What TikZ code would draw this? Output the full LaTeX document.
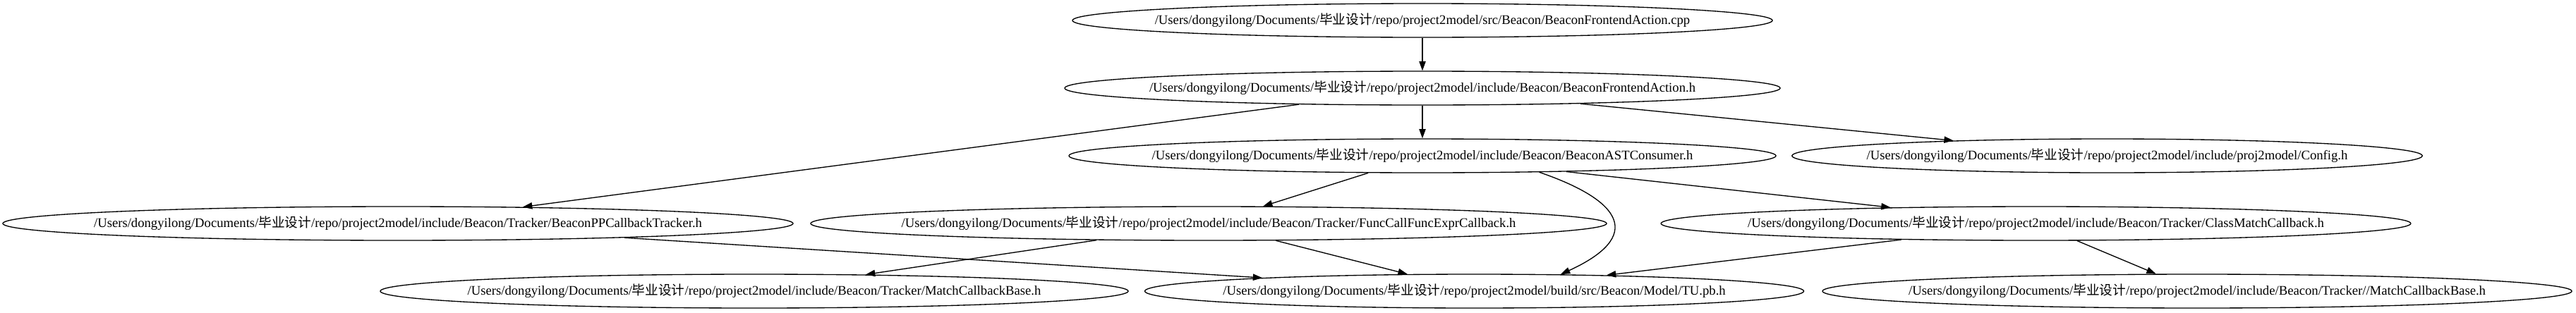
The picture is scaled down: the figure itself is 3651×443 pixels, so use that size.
\documentclass[tikz,border=0pt]{standalone}
\usepackage{fontspec}
\setmainfont{Liberation Serif}
\newfontfamily\cjk{Noto Sans CJK SC}
\usetikzlibrary{arrows.meta,shapes.geometric}
\newcommand\pre{/Users/dongyilong/Documents/{\cjk 毕业设计}/repo/project2model/}
\begin{document}
\begin{tikzpicture}[x=0.75pt,y=-0.75pt,
  font=\fontsize{14}{16}\selectfont,
  nd/.style={ellipse, draw, line width=1pt, minimum height=36pt, inner sep=0pt},
  ed/.style={-{Triangle[length=10pt,width=7pt]}, line width=1pt}]
\useasboundingbox (0,0) rectangle (3651,443);
% rank 1
\node[nd, minimum width=744pt, label={center:{\pre src/Beacon/BeaconFrontendAction.cpp}}] (A) at (2016,29) {};
% rank 2
\node[nd, minimum width=760.5pt, label={center:{\pre include/Beacon/BeaconFrontendAction.h}}] (B) at (2016,125) {};
% rank 3
\node[nd, minimum width=751.5pt, label={center:{\pre include/Beacon/BeaconASTConsumer.h}}] (C) at (2016,221) {};
\node[nd, minimum width=670pt, label={center:{\pre include/proj2model/Config.h}}] (D) at (2986.5,221) {};
% rank 4
\node[nd, minimum width=840pt, label={center:{\pre include/Beacon/Tracker/BeaconPPCallbackTracker.h}}] (E) at (564,317) {};
\node[nd, minimum width=846pt, label={center:{\pre include/Beacon/Tracker/FuncCallFuncExprCallback.h}}] (F) at (1713,317) {};
\node[nd, minimum width=797pt, label={center:{\pre include/Beacon/Tracker/ClassMatchCallback.h}}] (G) at (2885.5,317) {};
% rank 5
\node[nd, minimum width=795pt, label={center:{\pre include/Beacon/Tracker/MatchCallbackBase.h}}] (H) at (1069,413) {};
\node[nd, minimum width=700.5pt, label={center:{\pre build/src/Beacon/Model/TU.pb.h}}] (I) at (2089.5,413) {};
\node[nd, minimum width=796.5pt, label={center:{\pre include/Beacon/Tracker//MatchCallbackBase.h}}] (J) at (3114,413) {};
% edges
\draw[ed] (A) -- (B);
\draw[ed] (B) -- (C);
\draw[ed] (B) -- (D);
\draw[ed] (B) -- (E);
\draw[ed] (C) -- (F);
\draw[ed] (C) -- (G);
\draw[ed] (C.-8.7) .. controls (2300,285) and (2330,335) .. (I.11.5);
\draw[ed] (E) -- (I);
\draw[ed] (F) -- (H);
\draw[ed] (F) -- (I);
\draw[ed] (G) -- (I);
\draw[ed] (G) -- (J);
\end{tikzpicture}
\end{document}
